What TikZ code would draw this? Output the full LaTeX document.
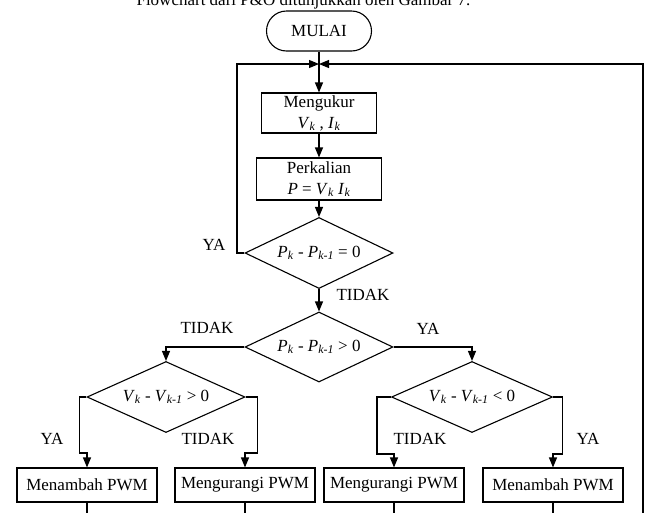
\documentclass[tikz,border=0pt]{standalone}
\usepackage{fontspec}
\setmainfont{Liberation Serif}
\usetikzlibrary{arrows.meta, shapes.geometric, shapes.misc}

\newcommand{\idx}[1]{\textsubscript{\textit{#1}}}
\newcommand{\PicW}{653}
\newcommand{\PicH}{512}
\newcommand{\LoopL}{237}
\newcommand{\LoopR}{643}
\newcommand{\PwmY}{485}
\newcommand{\MidX}{319}

\begin{document}
\begin{tikzpicture}[x=1pt, y=-1pt, line width=1.1pt,
  >={Triangle[length=10pt,width=8pt]},
  every node/.style={font=\fontsize{17}{21}\selectfont},
  termbox/.style={draw, rounded rectangle, minimum width=105pt, minimum height=40pt, inner sep=0pt},
  procbox/.style={draw, align=center, minimum height=40pt, inner sep=0pt},
  decision/.style={draw, diamond, aspect=2.1, inner sep=0pt, minimum height=71pt},
  pwmbox/.style={draw, minimum width=140pt, minimum height=34pt, inner sep=0pt},
  lbl/.style={inner sep=0pt}]

  \useasboundingbox (0,0) rectangle (\PicW,\PicH);
  \clip (0,0) rectangle (\PicW,\PicH);

  % line of text cut off above the chart
  \node[lbl, anchor=base west] (caption) at (136,5) {Flowchart dari P\&O ditunjukkan oleh Gambar 7.};

  \node[termbox] (start) at (\MidX,31) {MULAI};
  \coordinate (join) at (\MidX,64);
  \node[procbox, minimum width=115pt] (meas) at (\MidX,113) {Mengukur\\\textit{V}\idx{k} , \textit{I}\idx{k}};
  \node[procbox, minimum width=125pt, minimum height=42pt] (mult) at (\MidX,179) {Perkalian\\\textit{P} = \textit{V}\idx{k} \textit{I}\idx{k}};
  \node[decision, minimum width=148pt] (dP0) at (\MidX,253) {\textit{P}\idx{k} - \textit{P}\idx{k-1} = 0};
  \node[decision, minimum width=148pt, minimum height=70pt] (dP) at (\MidX,347) {\textit{P}\idx{k} - \textit{P}\idx{k-1} > 0};
  \node[decision, minimum width=158pt] (dVl) at (166,397) {\textit{V}\idx{k} - \textit{V}\idx{k-1} > 0};
  \node[decision, minimum width=161pt] (dVr) at (472,397) {\textit{V}\idx{k} - \textit{V}\idx{k-1} < 0};

  \node[pwmbox] (inc1) at (87,\PwmY) {Menambah PWM};
  \node[pwmbox] (dec1) at (245,\PwmY) {Mengurangi PWM};
  \node[pwmbox] (dec2) at (394,\PwmY) {Mengurangi PWM};
  \node[pwmbox] (inc2) at (553,\PwmY) {Menambah PWM};

  % lines running on below the cut
  \coordinate (out1) at (87,530);
  \coordinate (out2) at (245,530);
  \coordinate (out3) at (394,530);
  \coordinate (out4) at (553,530);
  \coordinate (back) at (\LoopR,530);

  \draw (start) -- (join);
  \draw[->] (join) -- (meas);
  \draw[->] (meas) -- (mult);
  \draw[->] (mult) -- (dP0);
  \draw[->] (dP0.west) -| (\LoopL,64) -- (join);
  \draw[->] (dP0) -- (dP);
  \draw[->] (dP.west) -| (dVl.north);
  \draw[->] (dP.east) -| (dVr.north);

  \draw[->] (dVl.west) -- ++(-7,0) -- ++(0,56) -| (inc1.north);
  \draw[->] (dVl.east) -- ++(12,0) -- ++(0,56) -| (dec1.north);
  \draw[->] (dVr.west) -- ++(-14,0) -- ++(0,57) -| (dec2.north);
  \draw[->] (dVr.east) -- ++(9,0) -- ++(0,57) -| (inc2.north);

  \draw (inc1) -- (out1);
  \draw (dec1) -- (out2);
  \draw (dec2) -- (out3);
  \draw (inc2) -- (out4);
  \draw[->] (back) |- (join);

  \node[lbl] (yaTop) at (214,245) {YA};
  \node[lbl] (tidakTop) at (363,295) {TIDAK};
  \node[lbl] (tidakL) at (207,328) {TIDAK};
  \node[lbl] (yaR) at (428,329) {YA};
  \node[lbl] (yaLL) at (52,439) {YA};
  \node[lbl] (tidakLR) at (208,439) {TIDAK};
  \node[lbl] (tidakRL) at (420,439) {TIDAK};
  \node[lbl] (yaRR) at (588,439) {YA};

\end{tikzpicture}
\end{document}
